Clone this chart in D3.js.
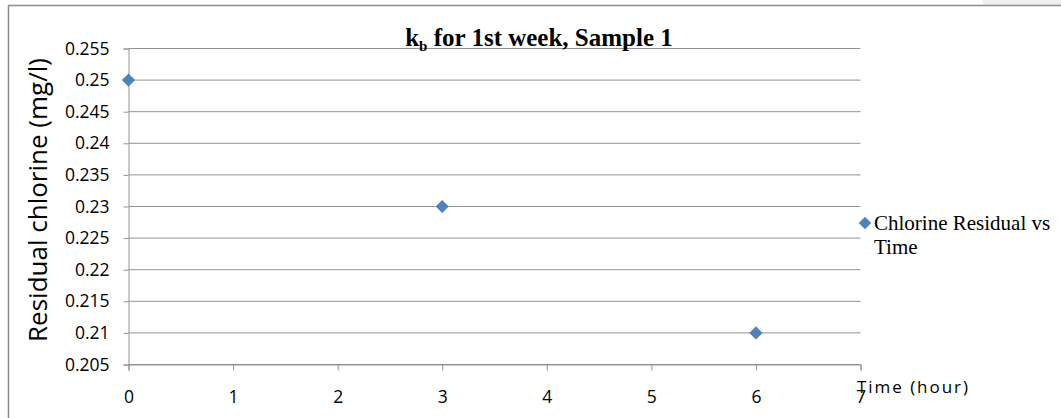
<!DOCTYPE html>
<html>
<head>
<meta charset="utf-8">
<script src="https://cdn.jsdelivr.net/npm/d3@7"></script>
<style>
  body { margin: 0; background: #fff; }
  svg { display: block; }
</style>
</head>
<body>
<div id="chart"></div>
<script>
// data
const hours = [0, 3, 6];
const residual = [0.25, 0.23, 0.21];
const xTicks = [0, 1, 2, 3, 4, 5, 6, 7];
const yTicks = [0.205, 0.21, 0.215, 0.22, 0.225, 0.23, 0.235, 0.24, 0.245, 0.25, 0.255];
const seriesName = ["Chlorine Residual vs", "Time"];

const width = 1061, height = 418;
const gridColor = "#939393";
const markColor = "#4f81bd";
const sans = "Open Sans, sans-serif";
const serif = "Liberation Serif, Times New Roman, serif";

const svg = d3.select("#chart").append("svg")
    .attr("width", width)
    .attr("height", height);

// outer chart frame (only top & left edges visible)
svg.append("rect").attr("x", 983).attr("y", 0).attr("width", 78).attr("height", 5).attr("fill", "#f0f0f0");
svg.append("line").attr("x1", 8.5).attr("x2", width).attr("y1", 5.5).attr("y2", 5.5)
    .attr("stroke", "#8c8c8c").attr("stroke-width", 1.5);
svg.append("line").attr("x1", 8.5).attr("x2", 8.5).attr("y1", 5).attr("y2", height)
    .attr("stroke", "#8c8c8c").attr("stroke-width", 1.5);

const x = d3.scaleLinear().domain([0, 7]).range([128.5, 860.5]);
const y = d3.scaleLinear().domain([0.205, 0.255]).range([364.5, 48.5]);

// horizontal gridlines
svg.append("g").selectAll("line")
    .data(yTicks)
    .join("line")
    .attr("x1", x(0)).attr("x2", x(7))
    .attr("y1", d => y(d)).attr("y2", d => y(d))
    .attr("stroke", gridColor).attr("stroke-width", 1);

// y axis
const yAxis = svg.append("g")
    .attr("transform", `translate(${x(0)},0)`)
    .call(d3.axisLeft(y).tickValues(yTicks).tickSize(5).tickPadding(14).tickFormat(d => String(+d.toFixed(3))));
yAxis.select(".domain").attr("stroke", gridColor);
yAxis.selectAll(".tick line").attr("stroke", gridColor);
yAxis.selectAll("text")
    .attr("font-family", sans)
    .attr("font-size", 17.5)
    .attr("fill", "#000");

// x axis
const xAxis = svg.append("g")
    .attr("transform", `translate(0,${y(0.205)})`)
    .call(d3.axisBottom(x).tickValues(xTicks).tickSize(6).tickPadding(20).tickFormat(d3.format("d")));
xAxis.select(".domain").attr("stroke", gridColor);
xAxis.selectAll(".tick line").attr("stroke", gridColor);
xAxis.selectAll("text")
    .attr("font-family", sans)
    .attr("font-size", 17.5)
    .attr("fill", "#000");

// points
const diamond = d3.symbol().type(d3.symbolDiamond2).size(110);
svg.append("g").selectAll("path")
    .data(hours.map((h, i) => [h, residual[i]]))
    .join("path")
    .attr("d", diamond)
    .attr("transform", d => `translate(${x(d[0])},${y(d[1])})`)
    .attr("fill", markColor);

// title
const title = svg.append("text")
    .attr("x", 539).attr("y", 46)
    .attr("text-anchor", "middle")
    .attr("font-family", serif)
    .attr("font-weight", "bold")
    .attr("font-size", 25);
title.append("tspan").text("k");
title.append("tspan").attr("font-size", 15).attr("dy", 5).text("b");
title.append("tspan").attr("dy", -5).text(" for 1st week, Sample 1");

// y axis title
svg.append("text")
    .attr("transform", "translate(47,200) rotate(-90)")
    .attr("text-anchor", "middle")
    .attr("font-family", sans)
    .attr("font-size", 26)
    .attr("fill", "#000")
    .text("Residual chlorine (mg/l)");

// x axis title
svg.append("text")
    .attr("x", 857).attr("y", 393)
    .attr("font-family", sans)
    .attr("font-size", 17)
    .attr("textLength", 111)
    .attr("lengthAdjust", "spacing")
    .attr("fill", "#000")
    .text("Time (hour)");

// legend
svg.append("path")
    .attr("d", d3.symbol().type(d3.symbolDiamond2).size(100))
    .attr("transform", "translate(865,223)")
    .attr("fill", markColor);
svg.append("text")
    .attr("x", 874).attr("y", 230)
    .attr("font-family", serif)
    .attr("font-size", 21)
    .attr("fill", "#000")
    .selectAll("tspan")
    .data(seriesName)
    .join("tspan")
    .attr("x", 874)
    .attr("dy", (d, i) => i ? 24 : 0)
    .text(d => d);
</script>
</body>
</html>
